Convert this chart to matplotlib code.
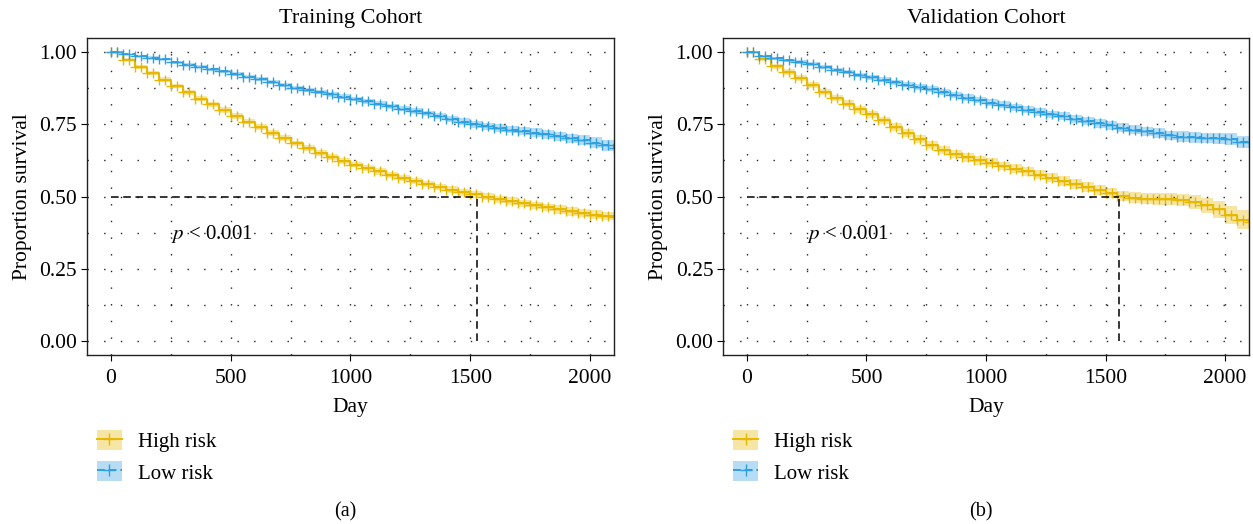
import numpy as np
import matplotlib.pyplot as plt
from matplotlib.patches import Patch
from matplotlib.lines import Line2D
from matplotlib.legend_handler import HandlerTuple

plt.rcParams['font.family'] = ['Liberation Serif', 'DejaVu Serif']
plt.rcParams['mathtext.fontset'] = 'stix'

# days (every 50 days) and survival estimates
days = np.arange(0, 2101, 50)

train_high = [1.000, 0.975, 0.950, 0.928, 0.905, 0.884, 0.862, 0.840, 0.820, 0.800,
              0.780, 0.760, 0.740, 0.720, 0.702, 0.684, 0.667, 0.652, 0.637, 0.624,
              0.611, 0.599, 0.587, 0.575, 0.564, 0.553, 0.543, 0.533, 0.524, 0.515,
              0.507, 0.499, 0.491, 0.484, 0.476, 0.469, 0.462, 0.455, 0.448, 0.442,
              0.437, 0.432, 0.430]
train_low = [1.000, 0.994, 0.988, 0.982, 0.976, 0.966, 0.958, 0.950, 0.942, 0.934,
             0.925, 0.916, 0.907, 0.897, 0.888, 0.878, 0.870, 0.862, 0.854, 0.846,
             0.838, 0.830, 0.822, 0.813, 0.805, 0.797, 0.788, 0.779, 0.770, 0.760,
             0.751, 0.744, 0.738, 0.732, 0.727, 0.722, 0.716, 0.709, 0.702, 0.695,
             0.687, 0.677, 0.667]
valid_high = [1.000, 0.978, 0.952, 0.932, 0.910, 0.888, 0.862, 0.842, 0.822, 0.803,
              0.785, 0.764, 0.742, 0.720, 0.698, 0.680, 0.660, 0.648, 0.636, 0.626,
              0.617, 0.606, 0.597, 0.588, 0.576, 0.565, 0.554, 0.544, 0.534, 0.522,
              0.513, 0.502, 0.496, 0.493, 0.492, 0.492, 0.488, 0.482, 0.470, 0.455,
              0.435, 0.420, 0.410]
valid_low = [1.000, 0.988, 0.979, 0.972, 0.966, 0.959, 0.950, 0.940, 0.932, 0.922,
             0.913, 0.905, 0.896, 0.888, 0.880, 0.872, 0.863, 0.853, 0.843, 0.834,
             0.826, 0.818, 0.810, 0.801, 0.793, 0.785, 0.778, 0.770, 0.762, 0.754,
             0.747, 0.739, 0.732, 0.726, 0.719, 0.712, 0.708, 0.705, 0.703, 0.702,
             0.700, 0.690, 0.689]

# confidence band half widths (same days)
ci_train_high = [0.000, 0.004, 0.006, 0.007, 0.008, 0.008, 0.009, 0.009, 0.009, 0.010,
                 0.010, 0.010, 0.010, 0.010, 0.010, 0.010, 0.010, 0.010, 0.010, 0.010,
                 0.010, 0.011, 0.011, 0.011, 0.011, 0.011, 0.011, 0.012, 0.012, 0.012,
                 0.012, 0.012, 0.012, 0.013, 0.013, 0.013, 0.013, 0.014, 0.014, 0.014,
                 0.015, 0.015, 0.015]
ci_train_low = [0.000, 0.002, 0.003, 0.004, 0.004, 0.005, 0.005, 0.005, 0.005, 0.005,
                0.006, 0.006, 0.006, 0.006, 0.007, 0.007, 0.007, 0.007, 0.008, 0.008,
                0.008, 0.008, 0.009, 0.009, 0.010, 0.010, 0.010, 0.011, 0.011, 0.012,
                0.012, 0.012, 0.013, 0.013, 0.014, 0.014, 0.015, 0.015, 0.016, 0.017,
                0.018, 0.019, 0.020]
ci_valid_high = [0.000, 0.006, 0.008, 0.009, 0.010, 0.011, 0.011, 0.011, 0.012, 0.012,
                 0.012, 0.013, 0.013, 0.013, 0.014, 0.014, 0.014, 0.014, 0.015, 0.015,
                 0.015, 0.015, 0.016, 0.016, 0.016, 0.016, 0.017, 0.017, 0.017, 0.018,
                 0.018, 0.018, 0.019, 0.019, 0.020, 0.021, 0.022, 0.024, 0.026, 0.028,
                 0.031, 0.034, 0.036]
ci_valid_low = [0.000, 0.004, 0.005, 0.006, 0.006, 0.007, 0.007, 0.007, 0.008, 0.008,
                0.008, 0.009, 0.009, 0.009, 0.010, 0.010, 0.010, 0.011, 0.011, 0.011,
                0.012, 0.012, 0.012, 0.013, 0.013, 0.013, 0.014, 0.014, 0.014, 0.015,
                0.015, 0.015, 0.016, 0.016, 0.017, 0.017, 0.018, 0.018, 0.019, 0.019,
                0.020, 0.020, 0.021]

titles = ['Training Cohort', 'Validation Cohort']
panel_tags = ['(a)', '(b)']
median_days = [1527, 1558]
group_labels = ['High risk', 'Low risk']
yellow = '#E7B800'
blue = '#2E9FDF'

fig = plt.figure(figsize=(12.53, 5.24), dpi=100)
ax_pos = [[0.0694, 0.3225, 0.4206, 0.605], [0.577, 0.3225, 0.4198, 0.605]]
panels = [(train_high, train_low, ci_train_high, ci_train_low),
          (valid_high, valid_low, ci_valid_high, ci_valid_low)]

for k in range(2):
    ax = fig.add_axes(ax_pos[k])
    hi, lo, ci_hi, ci_lo = [np.array(v) for v in panels[k]]
    for surv, ci, col, ls in [(hi, ci_hi, yellow, '-'), (lo, ci_lo, blue, (0, (4, 2)))]:
        ax.fill_between(days, surv - ci, surv + ci, step='post', color=col,
                        alpha=0.35, linewidth=0)
        ax.plot(days, surv, drawstyle='steps-post', color=col, lw=1.4, ls=ls)
        # censor marks
        ax.plot(days, surv, '+', color=col, ms=7, mew=1.0)
        ax.plot(days[:-1] + 25, surv[:-1], '+', color=col, ms=7, mew=1.0)

    med = median_days[k]
    ax.plot([0, med], [0.5, 0.5], color='black', ls=(0, (5, 3)), lw=1.1)
    ax.plot([med, med], [0, 0.5], color='black', ls=(0, (5, 3)), lw=1.1)
    ax.text(250, 0.37, r'$p$ < 0.001', fontsize=15, va='center', ha='left')

    ax.set_xlim(-100, 2100)
    ax.set_ylim(-0.05, 1.05)
    ax.set_xticks([0, 500, 1000, 1500, 2000])
    ax.set_xticks([250, 750, 1250, 1750], minor=True)
    ax.set_yticks([0, 0.25, 0.5, 0.75, 1.0])
    ax.set_yticklabels(['0.00', '0.25', '0.50', '0.75', '1.00'])
    ax.set_yticks([0.125, 0.375, 0.625, 0.875], minor=True)
    ax.grid(True, which='both', color='#222222', ls=(0, (1, 11)), lw=1)
    ax.tick_params(which='major', labelsize=15.5, length=4, width=0.8, direction='out',
                   pad=3)
    ax.tick_params(axis='x', which='major', pad=6)
    ax.tick_params(which='minor', length=0)
    for sp in ax.spines.values():
        sp.set_linewidth(1.0)
        sp.set_color('#222222')
    ax.set_title(titles[k], fontsize=16, pad=11)
    ax.set_xlabel('Day', fontsize=15.5, labelpad=7)
    ax.set_ylabel('Proportion survival', fontsize=15.5, labelpad=5)

    # legend below the panel
    handles = []
    for col, ls in [(yellow, '-'), (blue, (0, (4, 2)))]:
        handles.append((Patch(facecolor=col, alpha=0.35, edgecolor='none'),
                        Line2D([], [], color=col, ls=ls, lw=1.4, marker='+', ms=8)))
    fig.legend(handles, group_labels, handler_map={tuple: HandlerTuple(ndivide=1)},
               loc='upper left', bbox_to_anchor=(ax_pos[k][0] + 0.008, 1 - 430 / 524),
               frameon=False, fontsize=15, handlelength=1.2, handleheight=1.1,
               labelspacing=0.45, handletextpad=0.75, borderaxespad=0.0,
               borderpad=0.0)
    fig.text(ax_pos[k][0] + ax_pos[k][2] / 2 - 0.004, 0.023, panel_tags[k],
             fontsize=14.5, ha='center', va='center')

fig.savefig('out.png', dpi=100)
